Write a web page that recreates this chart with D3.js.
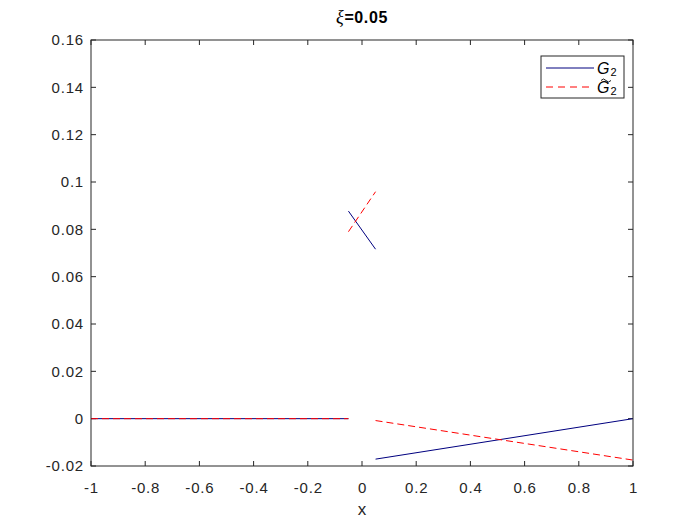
<!DOCTYPE html>
<html><head><meta charset="utf-8">
<script src="https://cdn.jsdelivr.net/npm/d3@7"></script>
<style>body{margin:0;background:#fff}svg{display:block}text{font-family:"Liberation Sans",Arial,sans-serif}</style>
</head><body>
<script>
const xTicks = [-1,-0.8,-0.6,-0.4,-0.2,0,0.2,0.4,0.6,0.8,1];
const yTicks = [-0.02,0,0.02,0.04,0.06,0.08,0.1,0.12,0.14,0.16];
// G2 (blue solid) pieces
const g2Left = [[-1,0],[-0.05,0]];
const g2Mid = [[-0.05,0.0877],[0.05,0.0716]];
const g2Right = [[0.05,-0.0171],[1,0]];
// G~2 (red dashed) pieces
const gtLeft = [[-1,0],[-0.05,0]];
const gtMid = [[-0.05,0.079],[0.05,0.0959]];
const gtRight = [[0.05,-0.0008],[1,-0.0175]];

const W=700,H=525, L=91,R=633,T=40,B=466;
const svg=d3.select("body").append("svg").attr("width",W).attr("height",H);
const x=d3.scaleLinear().domain([-1,1]).range([L,R]);
const y=d3.scaleLinear().domain([-0.02,0.16]).range([B,T]);
const line=d3.line().x(d=>x(d[0])).y(d=>y(d[1]));
const clr="#262626";
const fmt=(d,p)=>String(+d.toFixed(p)).replace("\u2212","-");

// axes
const xa=svg.append("g").attr("transform",`translate(0,${B})`).call(d3.axisBottom(x).tickValues(xTicks).tickFormat(d=>fmt(d,1)).tickSize(0).tickPadding(16));
const ya=svg.append("g").attr("transform",`translate(${L},0)`).call(d3.axisLeft(y).tickValues(yTicks).tickFormat(d=>fmt(d,2)).tickSize(0).tickPadding(7));
[xa,ya].forEach(g=>{g.attr("font-size",15).select(".domain").remove();g.selectAll("text").attr("font-size",15).attr("letter-spacing","0.8px").attr("fill",clr).attr("font-family","Liberation Sans, Arial, sans-serif");});
// inner ticks
const tk=svg.append("g").attr("stroke",clr).attr("stroke-width",1);
xTicks.forEach(v=>{tk.append("line").attr("x1",x(v)).attr("x2",x(v)).attr("y1",B).attr("y2",B-5);
 tk.append("line").attr("x1",x(v)).attr("x2",x(v)).attr("y1",T).attr("y2",T+5);});
yTicks.forEach(v=>{tk.append("line").attr("x1",L).attr("x2",L+5).attr("y1",y(v)).attr("y2",y(v));
 tk.append("line").attr("x1",R).attr("x2",R-5).attr("y1",y(v)).attr("y2",y(v));});

// data
const g=svg.append("g").attr("fill","none");
[g2Left,g2Mid,g2Right].forEach(d=>g.append("path").attr("d",line(d)).attr("stroke","#00007f").attr("stroke-width",1));
[gtLeft,gtMid,gtRight].forEach(d=>g.append("path").attr("d",line(d)).attr("stroke","#ff0000").attr("stroke-width",1).attr("stroke-dasharray","7,4"));

svg.append("rect").attr("x",L).attr("y",T).attr("width",R-L).attr("height",B-T).attr("fill","none").attr("stroke",clr).attr("stroke-width",1);

// labels
svg.append("text").attr("x",(L+R)/2).attr("y",515).attr("text-anchor","middle").attr("font-size",17).attr("fill",clr).text("x");
const tt=svg.append("text").attr("x",(L+R)/2).attr("y",23).attr("text-anchor","middle").attr("font-size",16).attr("letter-spacing","0.6px").attr("font-weight","bold").attr("fill","#000");
tt.append("tspan").attr("font-family","Liberation Serif, Times New Roman, serif").attr("font-style","italic").attr("font-weight","normal").attr("font-size",18).text("ξ");
tt.append("tspan").text("=0.05");

// legend
const lg=svg.append("g");
lg.append("rect").attr("x",541).attr("y",56).attr("width",83).attr("height",42).attr("fill","#fff").attr("stroke",clr).attr("stroke-width",1);
lg.append("line").attr("x1",546).attr("x2",594).attr("y1",68).attr("y2",68).attr("stroke","#00007f");
lg.append("line").attr("x1",546).attr("x2",594).attr("y1",87).attr("y2",87).attr("stroke","#ff0000").attr("stroke-dasharray","7,5");
const serif="Liberation Serif, Times New Roman, serif";
const t1=lg.append("text").attr("x",597).attr("y",74).attr("font-family",serif).attr("font-size",16).attr("fill","#000");
t1.append("tspan").attr("font-style","italic").text("G");
t1.append("tspan").attr("font-size",11).attr("dx",1).attr("dy",2).text("2");
const t2=lg.append("text").attr("x",597).attr("y",93).attr("font-family",serif).attr("font-size",16).attr("fill","#000");
t2.append("tspan").attr("font-style","italic").text("G");
t2.append("tspan").attr("font-size",11).attr("dx",1).attr("dy",2).text("2");
// tilde accent drawn as a path
lg.append("path").attr("d","M601,80.5 q2.5,-3 5,0 t5,0").attr("fill","none").attr("stroke","#000").attr("stroke-width",0.9);
</script>
</body></html>
